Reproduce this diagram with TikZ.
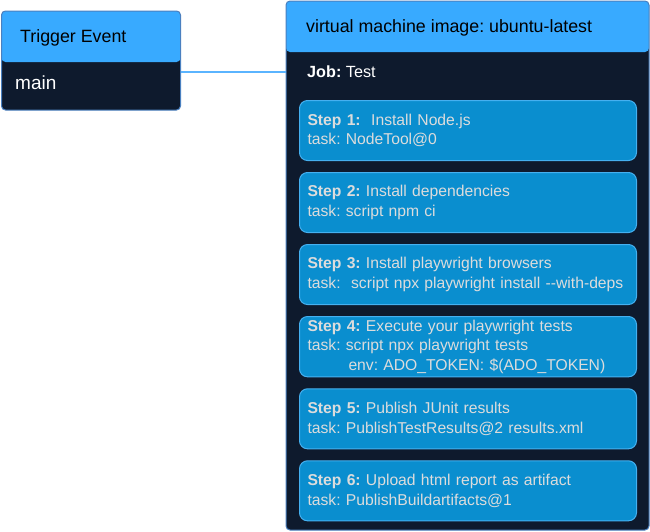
\documentclass[tikz,border=0pt]{standalone}
\usepackage{fontspec}
\setmainfont{Liberation Sans}
\usetikzlibrary{positioning}
\frenchspacing

\definecolor{cabeza}{HTML}{38AAFF}
\definecolor{fondo}{HTML}{0E1A2D}
\definecolor{borde}{HTML}{4A80C0}
\definecolor{pasofill}{HTML}{0A8ECF}
\definecolor{pasoborde}{HTML}{45B0F0}
\definecolor{pasotexto}{HTML}{DCDCDC}
\definecolor{enlace}{HTML}{5AB4FF}

\begin{document}
\begin{tikzpicture}[x=1pt,y=-1pt,
  marco/.style={draw=borde,line width=1pt,rounded corners=4pt,fill=fondo,
    anchor=north west,inner sep=0pt,
    path picture={\fill[cabeza] (path picture bounding box.north west)
      rectangle ([yshift=-#1]path picture bounding box.north east);}},
  titulo/.style={anchor=base west,inner sep=0pt,font=\fontsize{17.8}{20}\selectfont},
  cuerpo/.style={anchor=base west,inner sep=0pt,text=white},
  paso/.style={draw=pasoborde,line width=1pt,rounded corners=8pt,fill=pasofill,
    text=pasotexto,minimum width=337pt,minimum height=60pt,text width=321pt,
    inner xsep=8pt,align=left,font=\fontsize{15.7}{19.5}\selectfont}
  ]

  \useasboundingbox (0,0) rectangle (650,531);

  % trigger
  \node[marco=51pt,minimum width=179pt,minimum height=99pt] (trigger) at (1,10.5) {};
  \node[titulo] (trigtit) at (20,42) {Trigger Event};
  \node[cuerpo,font=\fontsize{19}{22}\selectfont] (rama) at (15,89) {main};

  % maquina virtual
  \node[marco=51pt,minimum width=363pt,minimum height=529pt] (vm) at (285.5,0.5) {};
  \node[titulo] (vmtit) at (306,32) {virtual machine image: ubuntu-latest};
  \node[cuerpo,font=\fontsize{16.2}{19}\selectfont] (job) at (307,77) {\textbf{Job:} Test};

  \node[paso,anchor=north west] (s1) at (299,100)
    {\textbf{Step 1:}\ \ Install Node.js\\task: NodeTool@0};
  \node[paso,below=11pt of s1] (s2)
    {\textbf{Step 2:} Install dependencies\\task: script npm ci};
  \node[paso,below=11pt of s2] (s3)
    {\textbf{Step 3:} Install playwright browsers\\task:\ \ script npx playwright install -{}-with-deps};
  \node[paso,below=11pt of s3] (s4)
    {\textbf{Step 4:} Execute your playwright tests\\task: script npx playwright tests\\
     \hspace*{41pt}env: ADO\_TOKEN: \$(ADO\_TOKEN)};
  \node[paso,below=11pt of s4] (s5)
    {\textbf{Step 5:} Publish JUnit results\\task: PublishTestResults@2 results.xml};
  \node[paso,below=11pt of s5] (s6)
    {\textbf{Step 6:} Upload html report as artifact\\task: PublishBuildartifacts@1};

  \draw[enlace,line width=2pt] ([yshift=-11pt]trigger.east) -- ([yshift=-11pt]trigger.east -| vm.west);

\end{tikzpicture}
\end{document}
